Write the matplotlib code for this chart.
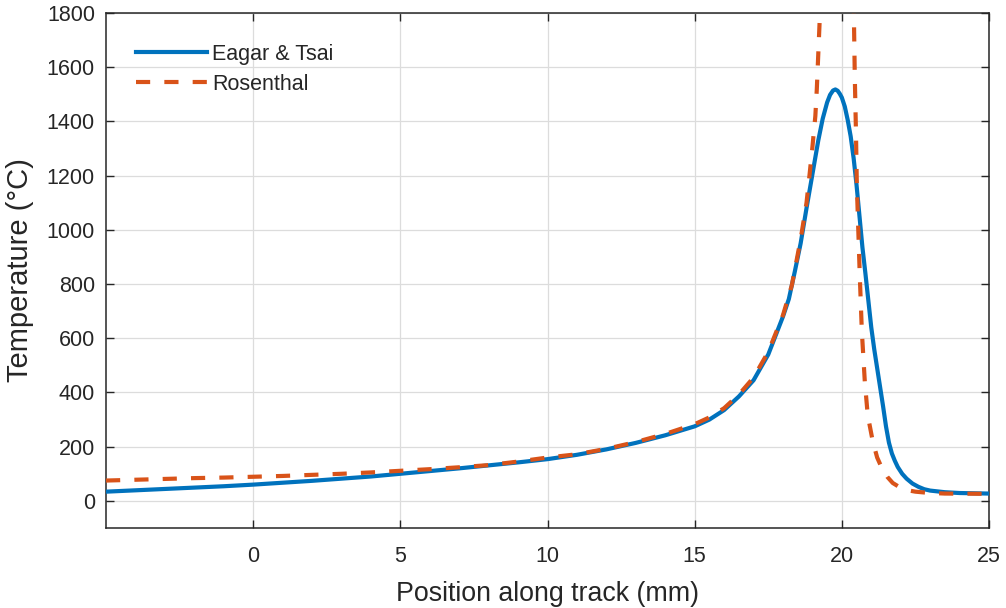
import matplotlib.pyplot as plt
import numpy as np

# Eagar & Tsai solution
et_x = [-5, -4, -3, -2, -1, 0, 1, 2, 3, 4, 5, 6, 7, 8, 9, 10, 11, 12, 13, 14, 15,
        15.5, 16, 16.5, 17, 17.5, 17.75, 18.0, 18.2, 18.4, 18.6, 18.8, 19.0, 19.2,
        19.35, 19.5, 19.6, 19.7, 19.78, 19.86, 19.93, 20.0, 20.1, 20.2, 20.3, 20.4,
        20.5, 20.6, 20.7, 20.8, 20.9, 21.0, 21.1, 21.2, 21.3, 21.4, 21.5, 21.6, 21.7,
        21.8, 21.9, 22.05, 22.2, 22.4, 22.6, 22.8, 23.0, 23.5, 24, 25]
et_t = [34, 39, 44, 49, 54, 60, 67, 74, 82, 90, 100, 110, 120, 131, 142, 154, 170,
        190, 214, 242, 275, 300, 335, 385, 445, 540, 610, 680, 745, 845, 950, 1080,
        1205, 1330, 1410, 1470, 1498, 1514, 1518, 1513, 1502, 1488, 1455, 1405, 1345,
        1265, 1165, 1050, 935, 840, 740, 640, 560, 490, 420, 350, 275, 215, 175, 148,
        125, 100, 82, 64, 52, 43, 38, 32, 29, 27]

# Rosenthal solution (goes off scale at the source)
ro_x = [-5, -4, -3, -2, -1, 0, 1, 2, 3, 4, 5, 6, 7, 8, 9, 10, 11, 12, 13, 14, 15,
        15.5, 16, 16.5, 17, 17.5, 18, 18.3, 18.6, 18.8, 18.9, 19.0, 19.1, 19.15, 19.2,
        19.25, 19.3, 20.38, 20.41, 20.44, 20.48, 20.51, 20.58, 20.61, 20.68, 20.78,
        20.88, 21.05, 21.2, 21.36, 21.55, 21.73, 22.0, 22.2, 22.5, 22.9, 23.5, 25]
ro_t = [75, 78, 81, 84, 86, 89, 92, 96, 100, 105, 111, 117, 124, 132, 145, 160, 172,
        192, 217, 247, 283, 308, 342, 392, 455, 550, 685, 795, 965, 1100, 1200, 1305,
        1420, 1520, 1650, 1780, 2000, 2000, 1787, 1566, 1360, 1162, 930, 830, 625,
        441, 316, 220, 160, 121, 88, 66, 48, 40, 34, 30, 27, 26]

x_ticks = [0, 5, 10, 15, 20, 25]
y_ticks = [0, 200, 400, 600, 800, 1000, 1200, 1400, 1600, 1800]

plt.rcParams['font.family'] = ['Liberation Sans', 'DejaVu Sans']
dark = '#262626'

fig = plt.figure(figsize=(10.06, 6.08), dpi=100)
ax = fig.add_axes([0.1054, 0.1316, 0.8777, 0.847])

ax.plot(et_x, et_t, color='#0072BD', lw=3, label='Eagar & Tsai', zorder=3)
ax.plot(ro_x, ro_t, color='#D95319', lw=3, dashes=(3.4, 3.4),
        dash_capstyle='butt', label='Rosenthal', zorder=4)

ax.set_xlim(-5, 25)
ax.set_ylim(-100, 1800)
ax.set_xticks(x_ticks)
ax.set_yticks(y_ticks)
ax.grid(True, color='#dcdcdc', lw=0.9)
ax.set_axisbelow(True)

ax.tick_params(direction='in', length=6, width=1, colors=dark, labelsize=15.5,
               top=True, right=True)
ax.tick_params(axis='x', pad=13)
ax.tick_params(axis='y', pad=8)
for s in ax.spines.values():
    s.set_color(dark)
    s.set_linewidth(1.1)

ax.set_xlabel('Position along track (mm)', fontsize=19.3, color=dark, labelpad=10)
ax.set_ylabel('Temperature (°C)', fontsize=21, color=dark, labelpad=9)

leg = ax.legend(loc='upper left', bbox_to_anchor=(0.034, 0.94), frameon=False,
                fontsize=15.5, handlelength=3.3, handletextpad=0.25,
                labelspacing=0.4, borderaxespad=0, borderpad=0)
for t in leg.get_texts():
    t.set_color(dark)

fig.savefig('out.png', dpi=100)
